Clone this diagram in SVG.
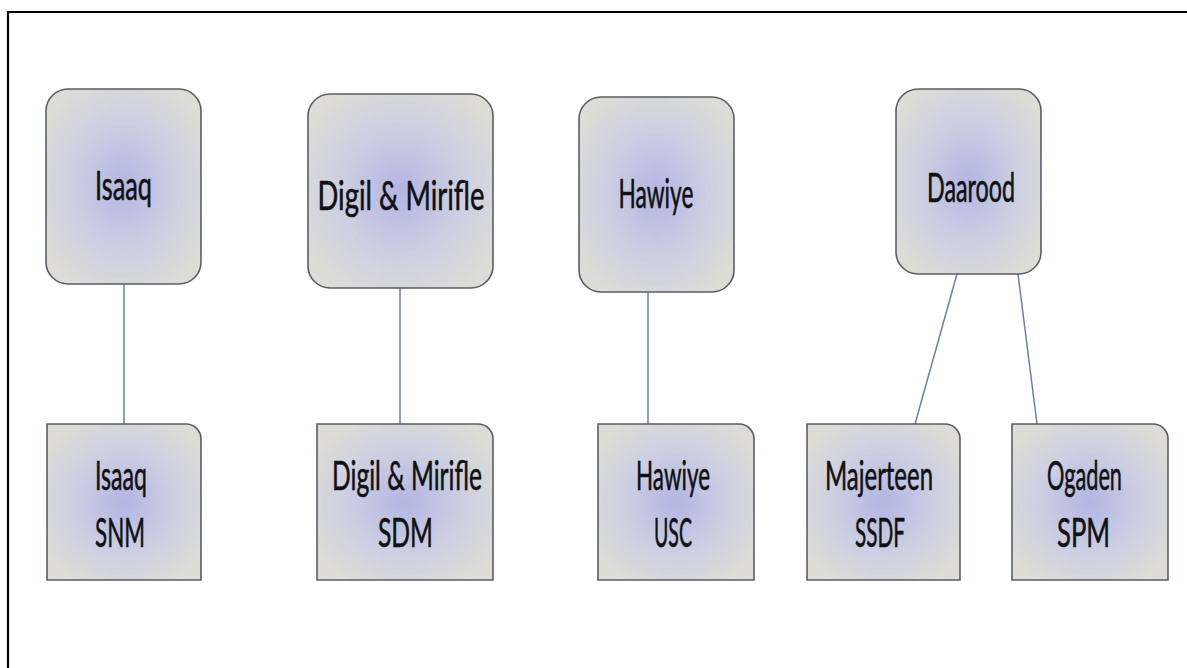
<svg xmlns="http://www.w3.org/2000/svg" width="1187" height="668" viewBox="0 0 1187 668">
<style>
.box{fill:url(#g);stroke:#5a5e66;stroke-width:1.6}
.t{font-family:Lato,"Open Sans","Liberation Sans",sans-serif;font-size:41px;fill:#111;stroke:#111;stroke-width:0.6;text-anchor:middle}
.c{stroke:#6f7f9e;stroke-width:1.5;fill:none}
</style>
<defs>
<radialGradient id="g" cx="0.5" cy="0.5" r="0.6">
<stop offset="0" stop-color="#b2b6e2"/>
<stop offset="0.55" stop-color="#cdcfe2"/>
<stop offset="1" stop-color="#dddcd6"/>
</radialGradient>
</defs>
<rect width="1187" height="668" fill="#fff"/>
<path d="M8 668 V12 H1187" fill="none" stroke="#000" stroke-width="2.2"/>
<g id="connectors">
<line class="c" x1="124" y1="284" x2="124" y2="424"/>
<line class="c" x1="400" y1="288" x2="400" y2="424"/>
<line class="c" x1="648" y1="292" x2="648" y2="424"/>
<line class="c" x1="957" y1="274" x2="915" y2="424"/>
<line class="c" x1="1018" y1="274" x2="1037" y2="424"/>
</g>
<g id="isaaq">
<rect class="box" x="46" y="89" width="155" height="195" rx="22"/>
<text class="t" x="123.5" y="200" textLength="57" lengthAdjust="spacingAndGlyphs">Isaaq</text>
</g>
<g id="digil">
<rect class="box" x="308" y="94" width="185" height="194" rx="22"/>
<text class="t" x="401" y="210" textLength="167" lengthAdjust="spacingAndGlyphs">Digil &amp; Mirifle</text>
</g>
<g id="hawiye">
<rect class="box" x="579" y="97" width="155" height="195" rx="22"/>
<text class="t" x="656" y="208" textLength="75" lengthAdjust="spacingAndGlyphs">Hawiye</text>
</g>
<g id="daarood">
<rect class="box" x="896" y="89" width="145" height="185" rx="22"/>
<text class="t" x="971" y="202" textLength="88" lengthAdjust="spacingAndGlyphs">Daarood</text>
</g>
<g id="isaaq-snm">
<path class="box" d="M47 424 H186 A15 15 0 0 1 201 439 V580 H47 Z"/>
<text class="t" x="121" y="490" textLength="52" lengthAdjust="spacingAndGlyphs">Isaaq</text>
<text class="t" x="120" y="547" textLength="50" lengthAdjust="spacingAndGlyphs">SNM</text>
</g>
<g id="digil-sdm">
<path class="box" d="M317 424 H478 A15 15 0 0 1 493 439 V580 H317 Z"/>
<text class="t" x="407" y="490" textLength="150" lengthAdjust="spacingAndGlyphs">Digil &amp; Mirifle</text>
<text class="t" x="405.5" y="547" textLength="55" lengthAdjust="spacingAndGlyphs">SDM</text>
</g>
<g id="hawiye-usc">
<path class="box" d="M598 424 H739 A15 15 0 0 1 754 439 V580 H598 Z"/>
<text class="t" x="673" y="490" textLength="74" lengthAdjust="spacingAndGlyphs">Hawiye</text>
<text class="t" x="673" y="547" textLength="38" lengthAdjust="spacingAndGlyphs">USC</text>
</g>
<g id="majerteen-ssdf">
<path class="box" d="M807 424 H945 A15 15 0 0 1 960 439 V580 H807 Z"/>
<text class="t" x="879" y="490" textLength="108" lengthAdjust="spacingAndGlyphs">Majerteen</text>
<text class="t" x="880" y="547" textLength="50" lengthAdjust="spacingAndGlyphs">SSDF</text>
</g>
<g id="ogaden-spm">
<path class="box" d="M1012 424 H1153 A15 15 0 0 1 1168 439 V580 H1012 Z"/>
<text class="t" x="1084.5" y="490" textLength="75" lengthAdjust="spacingAndGlyphs">Ogaden</text>
<text class="t" x="1083.5" y="547" textLength="53" lengthAdjust="spacingAndGlyphs">SPM</text>
</g>
</svg>
